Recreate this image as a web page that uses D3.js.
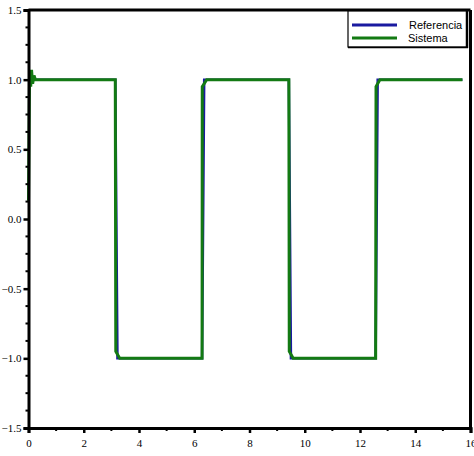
<!DOCTYPE html>
<html><head><meta charset="utf-8">
<script src="https://cdn.jsdelivr.net/npm/d3@7"></script>
<style>body{margin:0;background:#fff}</style>
</head><body>
<svg id="c" width="474" height="456"></svg>
<script>
// Reference (blue) square wave
const refT = [0, 3.1416, 3.22, 6.2832, 6.36, 9.4248, 9.50, 12.5664, 12.64, 15.708];
const refY = [1, 1, -1, -1, 1, 1, -1, -1, 1, 1];
// System (green) response
const sysT = [0, 0.04, 0.08, 0.11, 0.15, 0.2, 0.25, 3.1416, 3.16, 3.30, 6.2832, 6.29, 6.45, 9.4248, 9.44, 9.58, 12.5664, 12.58, 12.72, 15.708];
const sysY = [0.13, 1.06, 0.95, 1.07, 0.97, 1.03, 1.0, 1.0, -0.95, -1.0, -1.0, 0.95, 1.0, 1.0, -0.95, -1.0, -1.0, 0.95, 1.0, 1.0];
const xTicks = [0, 2, 4, 6, 8, 10, 12, 14, 16];
const yTicks = [-1.5, -1.0, -0.5, 0.0, 0.5, 1.0, 1.5];
const legendLabels = ["Referencia", "Sistema"];
const colors = ["#1a1aa0", "#137a13"];

const svg = d3.select("#c");
const x = d3.scaleLinear().domain([0, 16]).range([28.5, 470.5]);
const y = d3.scaleLinear().domain([-1.5, 1.5]).range([428, 10]);

const line = d3.line().x(d => x(d[0])).y(d => y(d[1]));
const refData = refT.map((t, i) => [t, refY[i]]);
const sysData = sysT.map((t, i) => [t, sysY[i]]);

svg.append("path").datum(refData).attr("d", line).attr("fill", "none")
  .attr("stroke", colors[0]).attr("stroke-width", 2.5);
svg.append("path").datum(sysData).attr("d", line).attr("fill", "none")
  .attr("stroke", colors[1]).attr("stroke-width", 3);

// Frame
const g = svg.append("g");
g.append("line").attr("x1", x(0)).attr("x2", x(16)).attr("y1", y(1.5)).attr("y2", y(1.5)).attr("stroke", "#000").attr("stroke-width", 3);
g.append("line").attr("x1", x(16)).attr("x2", x(16)).attr("y1", y(1.5)).attr("y2", y(-1.5)).attr("stroke", "#000").attr("stroke-width", 3);

// Axes
const xAxis = d3.axisBottom(x).tickValues(xTicks).tickFormat(d3.format("d")).tickSize(5).tickPadding(6);
const yAxis = d3.axisLeft(y).tickValues(yTicks).tickFormat(d3.format(".1f")).tickSize(5).tickPadding(2);
const gx = svg.append("g").attr("transform", `translate(0,${y(-1.5)})`).call(xAxis);
const gy = svg.append("g").attr("transform", `translate(${x(0)},0)`).call(yAxis);
[gx, gy].forEach(a => {
  a.select(".domain").attr("stroke-width", 3);
  a.selectAll(".tick line").attr("stroke-width", 2.5);
  a.selectAll("text").attr("font-family", "Liberation Serif").attr("font-size", 11).attr("fill", "#000");
});
// minor ticks
const xMinor = d3.range(1, 16, 2);
svg.append("g").selectAll("line").data(xMinor).join("line")
  .attr("x1", d => x(d)).attr("x2", d => x(d)).attr("y1", y(-1.5)).attr("y2", y(-1.5) + 3)
  .attr("stroke", "#000").attr("stroke-width", 2);
const yMinor = d3.range(-1.5, 1.5, 0.125).filter(v => Math.abs(v * 2 - Math.round(v * 2)) > 1e-6);
svg.append("g").selectAll("line").data(yMinor).join("line")
  .attr("x1", x(0) - 3).attr("x2", x(0)).attr("y1", d => y(d)).attr("y2", d => y(d))
  .attr("stroke", "#000").attr("stroke-width", 2);

// Legend
const lg = svg.append("g");
lg.append("rect").attr("x", 348).attr("y", 11).attr("width", 119).attr("height", 36)
  .attr("fill", "#fff").attr("stroke", "#000").attr("stroke-width", 1.2);
lg.append("line").attr("x1", 467).attr("x2", 467).attr("y1", 11).attr("y2", 48).attr("stroke", "#000").attr("stroke-width", 2.5);
lg.append("line").attr("x1", 348).attr("x2", 468).attr("y1", 47.5).attr("y2", 47.5).attr("stroke", "#000").attr("stroke-width", 1.5);
legendLabels.forEach((lab, i) => {
  const yy = 25 + i * 13;
  lg.append("line").attr("x1", 352).attr("x2", 397).attr("y1", yy).attr("y2", yy)
    .attr("stroke", colors[i]).attr("stroke-width", 3);
  lg.append("text").attr("x", i === 0 ? 409 : 408).attr("y", yy + 4).text(lab)
    .attr("font-family", "Liberation Sans").attr("font-size", 11).attr("fill", "#000");
});
</script>
</body></html>
